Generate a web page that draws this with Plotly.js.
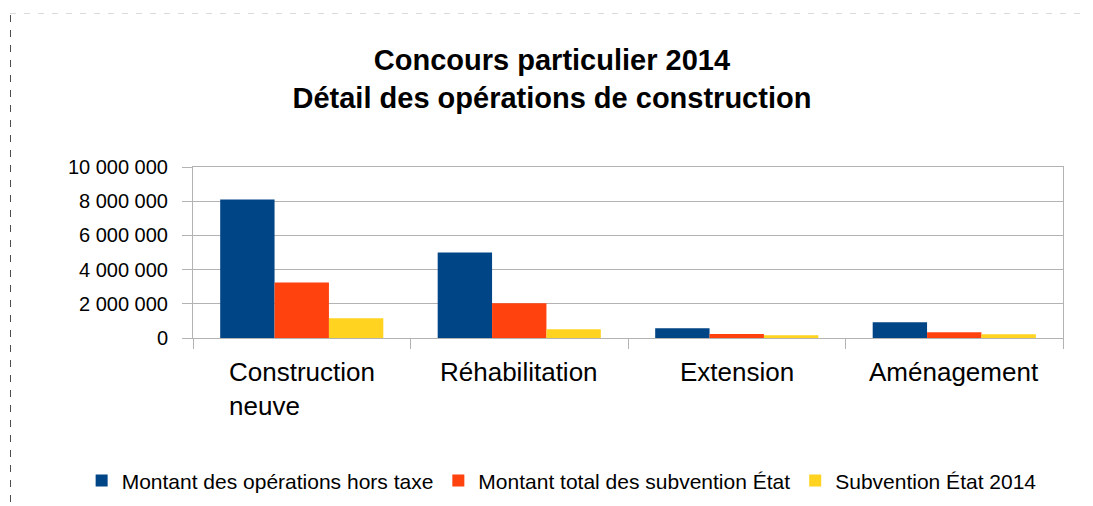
<!DOCTYPE html>
<html>
<head>
<meta charset="utf-8">
<script src="https://cdn.plot.ly/plotly-3.0.1.min.js"></script>
<style>
  html, body { margin: 0; padding: 0; background: #fff; }
  #wrap { position: relative; width: 1093px; height: 506px; }
  #chart { position: absolute; left: 0; top: 0; width: 1093px; height: 506px; }
  #frame { position: absolute; left: 0; top: 0; pointer-events: none; }
</style>
</head>
<body>
<div id="wrap">
  <div id="chart"></div>
  <svg id="frame" width="1093" height="506">
    <line x1="10" y1="13.5" x2="1088" y2="13.5" stroke="#d9d9d9" stroke-width="1" stroke-dasharray="6 8"/>
    <line x1="10.5" y1="14" x2="10.5" y2="506" stroke="#4d4d4d" stroke-width="1" stroke-dasharray="7 8" stroke-dashoffset="-1"/>
  </svg>
</div>
<script>
const categories = ["Construction neuve", "Réhabilitation", "Extension", "Aménagement"];
const categoryLabels = ["Construction<br>neuve", "Réhabilitation", "Extension", "Aménagement"];
const seriesNames = ["Montant des opérations hors taxe", "Montant total des subvention État", "Subvention État 2014"];
const montantHT = [8100000, 5000000, 570000, 920000];
const montantSubv = [3250000, 2030000, 235000, 335000];
const subv2014 = [1150000, 510000, 155000, 215000];
const yTickVals = [0, 2000000, 4000000, 6000000, 8000000, 10000000];
const yTickText = ["0", "2 000 000", "4 000 000", "6 000 000", "8 000 000", "10 000 000"];
const colors = ["#004586", "#ff420e", "#ffd320"];
const FONT = '"Liberation Sans", Arial, sans-serif';

const seriesValues = [montantHT, montantSubv, subv2014];
const data = seriesValues.map((vals, i) => ({
  type: "bar",
  name: seriesNames[i],
  x: categories,
  y: vals,
  marker: { color: colors[i], line: { width: 0 } },
  hoverinfo: "skip"
}));

const annotations = categories.map((c, i) => ({
  x: c, xref: "x",
  y: -0.1, yref: "paper",
  xanchor: "center", yanchor: "top",
  align: "left",
  text: categoryLabels[i],
  showarrow: false,
  font: { family: FONT, size: 26, color: "#000" }
}));

const layout = {
  width: 1093, height: 506,
  margin: { l: 193, r: 30, t: 167, b: 168, autoexpand: false },
  paper_bgcolor: "rgba(0,0,0,0)",
  plot_bgcolor: "#fff",
  font: { family: FONT, color: "#000" },
  title: {
    text: "<b>Concours particulier 2014<br>Détail des opérations de construction</b>",
    x: 0.505, xanchor: "center", xref: "container",
    y: 0.862, yanchor: "top", yref: "container",
    font: { family: FONT, size: 29, color: "#000" }
  },
  barmode: "group",
  bargap: 0.25,
  bargroupgap: 0,
  showlegend: true,
  legend: {
    orientation: "h",
    x: -0.128, xanchor: "left", xref: "paper",
    y: -0.836, yanchor: "middle", yref: "paper",
    font: { family: FONT, size: 21, color: "#000" },
    itemwidth: 30,
    traceorder: "normal"
  },
  xaxis: {
    type: "category",
    showticklabels: false,
    ticks: "outside", tickson: "boundaries", ticklen: 10, tickcolor: "#b3b3b3", tickwidth: 1,
    showgrid: false,
    showline: true, linecolor: "#b3b3b3", linewidth: 1, mirror: true,
    fixedrange: true
  },
  yaxis: {
    range: [0, 10000000],
    tickvals: yTickVals, ticktext: yTickText,
    ticks: "outside", ticklen: 10, tickcolor: "#b3b3b3", tickwidth: 1,
    ticklabelstandoff: 10,
    tickfont: { family: FONT, size: 20, color: "#000" },
    showgrid: true, gridcolor: "#b3b3b3", gridwidth: 1,
    zeroline: false,
    showline: true, linecolor: "#b3b3b3", linewidth: 1, mirror: true,
    fixedrange: true
  },
  annotations: annotations
};

Plotly.newPlot("chart", data, layout, { staticPlot: true, displayModeBar: false });
</script>
</body>
</html>
